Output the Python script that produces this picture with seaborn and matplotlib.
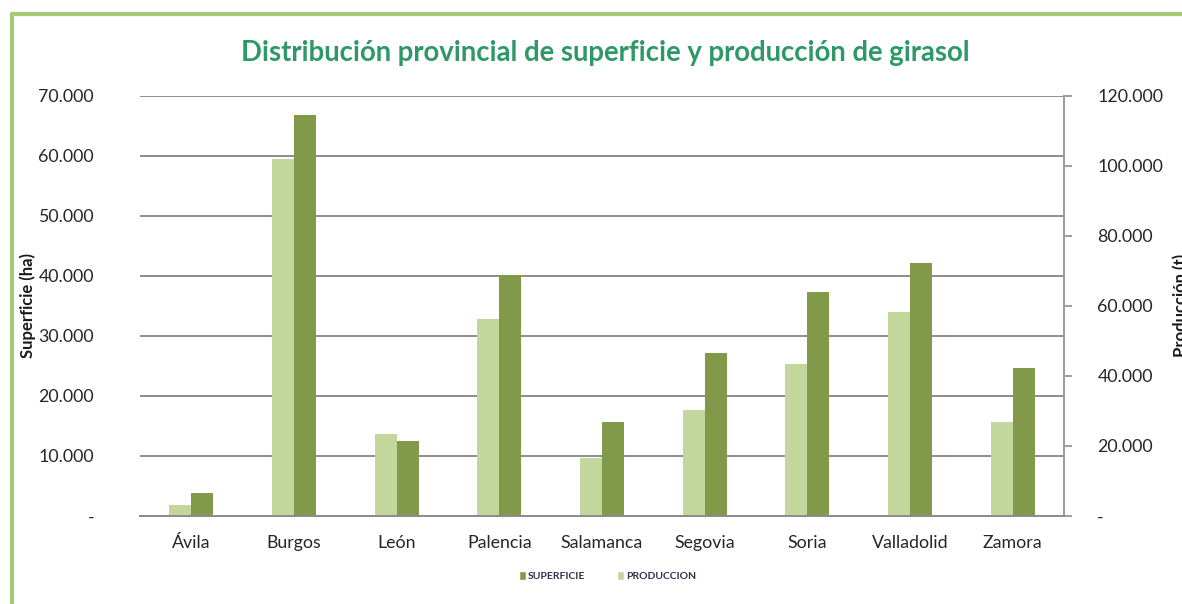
import numpy as np
import pandas as pd
import matplotlib
matplotlib.use("Agg")
import matplotlib.pyplot as plt
from matplotlib.lines import Line2D
from matplotlib.patches import Patch
from matplotlib.ticker import FuncFormatter, MultipleLocator
import seaborn as sns

# Datos
provincias = ["Ávila", "Burgos", "León", "Palencia", "Salamanca",
              "Segovia", "Soria", "Valladolid", "Zamora"]
superficie_ha = [3800, 66800, 12500, 40100, 15700, 27200, 37400, 42100, 24700]
produccion_t = [3100, 101900, 23400, 56300, 16700, 30300, 43400, 58300, 26800]

series = ["PRODUCCION", "SUPERFICIE"]
colores = {"PRODUCCION": "#C3D69B", "SUPERFICIE": "#82994A"}

sns.set_theme(style="white")
plt.rcParams["font.family"] = ["Lato", "DejaVu Sans"]

df_sup = pd.DataFrame({"provincia": provincias, "serie": "SUPERFICIE", "valor": superficie_ha})
df_prod = pd.DataFrame({"provincia": provincias, "serie": "PRODUCCION", "valor": produccion_t})


def miles(v, pos):
    if abs(v) < 1e-9:
        return "-"
    return f"{int(round(v)):,}".replace(",", ".")


fig = plt.figure(figsize=(11.82, 6.04), dpi=100)
ax = fig.add_axes([0.1184, 0.1457, 0.7818, 0.6954])
ax2 = ax.twinx()

# cada serie en su eje; hue_order reserva el hueco de la otra serie
sns.barplot(data=df_sup, x="provincia", y="valor", hue="serie", hue_order=series,
            order=provincias, palette=colores, width=0.43, dodge=True, saturation=1,
            legend=False, linewidth=0, ax=ax)
sns.barplot(data=df_prod, x="provincia", y="valor", hue="serie", hue_order=series,
            order=provincias, palette=colores, width=0.43, dodge=True, saturation=1,
            legend=False, linewidth=0, ax=ax2)

txt = "#262626"
ax.set_xlim(-0.5, len(provincias) - 0.5)
ax.set_ylim(0, 70000)
ax2.set_ylim(0, 120000)
ax.yaxis.set_major_locator(MultipleLocator(10000))
ax2.yaxis.set_major_locator(MultipleLocator(20000))
ax.yaxis.set_major_formatter(FuncFormatter(miles))
ax2.yaxis.set_major_formatter(FuncFormatter(miles))

ax.set_axisbelow(True)
ax.grid(axis="y", color="#8C8C8C", linewidth=1.4)
ax.grid(axis="x", visible=False)
ax2.grid(False)

ax.set_xlabel("")
ax.set_ylabel("")
ax2.set_xlabel("")
ax2.set_ylabel("")

ax.tick_params(axis="y", length=0, pad=33, labelsize=12.8, labelcolor=txt)
ax.tick_params(axis="x", length=0, pad=14, labelsize=12.8, labelcolor=txt)
ax2.tick_params(axis="y", direction="out", length=6, width=1.2, color="#8C8C8C",
                pad=18, labelsize=12.8, labelcolor=txt)

for a in (ax, ax2):
    a.spines["top"].set_visible(False)
    a.spines["left"].set_visible(False)
    a.spines["right"].set_visible(False)
    a.spines["bottom"].set_color("#8C8C8C")
    a.spines["bottom"].set_linewidth(1.4)
ax2.spines["right"].set_visible(True)
ax2.spines["right"].set_color("#9A9A9A")
ax2.spines["right"].set_linewidth(1.4)

fig.text(0.512, 0.912, "Distribución provincial de superficie y producción de girasol",
         ha="center", va="center", fontsize=19.8, fontweight="bold", color="#2E9966")
fig.text(0.0237, 0.495, "Superficie (ha)", rotation=90, ha="center", va="center",
         fontsize=12, fontweight="bold", color="#1A1A1A")
# en el original la etiqueta derecha queda recortada por el borde
fig.text(0.999, 0.495, "Producción (t)", rotation=90, ha="center", va="center",
         fontsize=12, fontweight="bold", color="#1A1A1A")

handles = [Patch(facecolor=colores["SUPERFICIE"], label="SUPERFICIE"),
           Patch(facecolor=colores["PRODUCCION"], label="PRODUCCION")]
fig.legend(handles=handles, loc="center", bbox_to_anchor=(0.514, 0.046), ncol=2,
           frameon=False, fontsize=8, handlelength=0.7, handleheight=0.9,
           handletextpad=0.2, columnspacing=3.0, labelcolor="#2E2E4E",
           prop={"weight": "bold", "size": 7.5})

# marco verde del grafico
borde = "#A9C97A"
fig.add_artist(Line2D([0.0102, 1.0], [0.9768, 0.9768], color=borde, linewidth=3,
                      transform=fig.transFigure))
fig.add_artist(Line2D([0.0102, 0.0102], [0.0, 0.9768], color=borde, linewidth=3,
                      transform=fig.transFigure))

fig.savefig("out.png", dpi=100)
